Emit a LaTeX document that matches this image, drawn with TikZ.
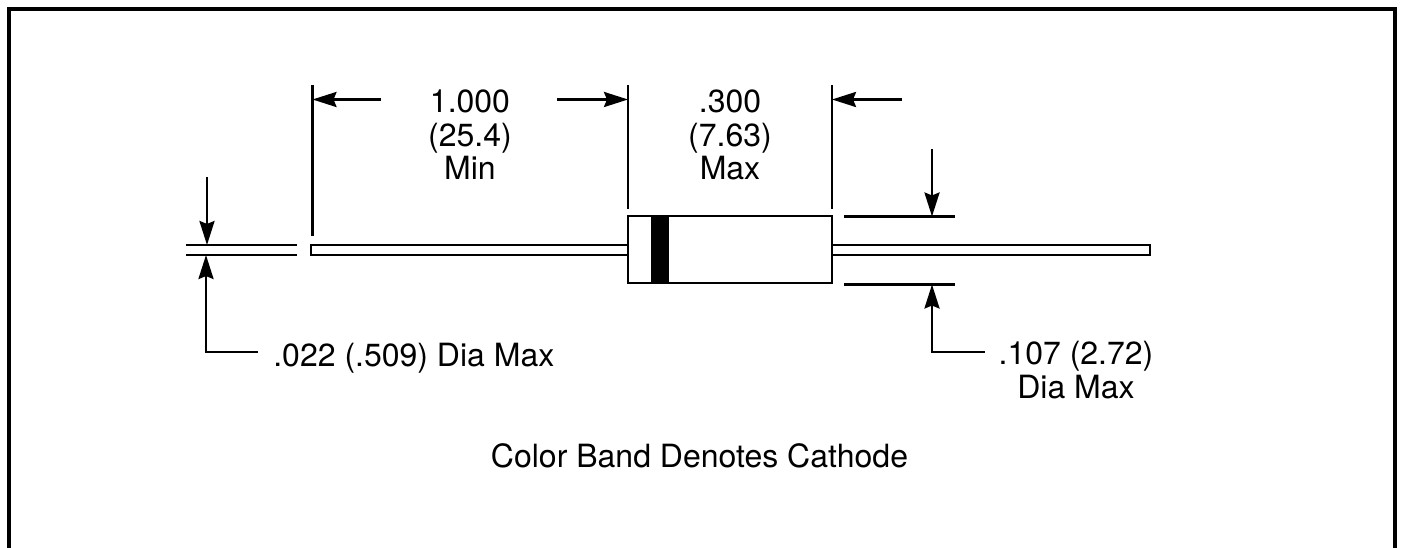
\documentclass[tikz,border=0pt]{standalone}
\usepackage{fontspec}
\setmainfont{TeX Gyre Heros}
\usetikzlibrary{arrows.meta}

\begin{document}
\begin{tikzpicture}[x=1pt,y=-1pt,line width=2.7pt,
    dim/.style={-{Stealth[length=24pt,width=15pt,inset=3pt]}},
    label/.style={font=\fontsize{32}{33.5}\selectfont,align=center,inner sep=0pt}]
  \useasboundingbox (0,0) rectangle (1401,548);

  % frame
  \coordinate (frameA) at (8.5,548);
  \coordinate (frameB) at (8.5,9);
  \coordinate (frameC) at (1395,9);
  \coordinate (frameD) at (1395,548);
  \draw[line width=4pt] (frameA) -- (frameB) -- (frameC) -- (frameD);

  % diode
  \node[draw,minimum width=204pt,minimum height=67pt,inner sep=0pt] (body) at (730,249.5) {};
  \node[fill=black,minimum width=18pt,minimum height=67pt,inner sep=0pt] (band) at (660,249.5) {};
  \coordinate (leadLa) at (311,245);
  \coordinate (leadLb) at (311,255);
  \coordinate (leadRa) at (1150,245);
  \coordinate (leadRb) at (1150,255);
  \draw (body.west |- leadLa) -- (leadLa) -- (leadLb) -- (body.west |- leadLb);
  \draw (body.east |- leadRa) -- (leadRa) -- (leadRb) -- (body.east |- leadRb);

  % texts
  \node[label] (lenText)   at (470,135) {1.000\\(25.4)\\Min};
  \node[label] (bodyText)  at (730,135) {.300\\(7.63)\\Max};
  \node[label,anchor=west] (leadText) at (272,358) {.022 (.509) Dia Max};
  \node[label] (diaText)   at (1076,370) {.107 (2.72)\\Dia Max};
  \node[label] (noteText)  at (699.5,456) {Color Band Denotes Cathode};

  % extension lines
  \coordinate (extA) at (312.5,85);
  \coordinate (extAe) at (312.5,236);
  \coordinate (extB) at (628,85);
  \coordinate (extBe) at (628,209);
  \coordinate (extC) at (832,85);
  \coordinate (extCe) at (832,209);
  \draw (extA) -- (extAe);
  \draw (extB) -- (extBe);
  \draw (extC) -- (extCe);

  \coordinate (stubLa) at (186,245);
  \coordinate (stubLae) at (297,245);
  \coordinate (stubLb) at (186,255);
  \coordinate (stubLbe) at (297,255);
  \coordinate (stubRa) at (844,216.5);
  \coordinate (stubRae) at (955,216.5);
  \coordinate (stubRb) at (844,284.5);
  \coordinate (stubRbe) at (955,284.5);
  \draw (stubLa) -- (stubLae);
  \draw (stubLb) -- (stubLbe);
  \draw (stubRa) -- (stubRae);
  \draw (stubRb) -- (stubRbe);

  % dimension arrows
  \coordinate (arrA) at (381,99.5);
  \coordinate (arrB) at (557,99.5);
  \coordinate (arrC) at (902,99.5);
  \coordinate (arrD) at (207,177);
  \coordinate (arrE) at (932,149);
  \coordinate (kneeL) at (206,352);
  \coordinate (kneeR) at (932,352);
  \coordinate (leadL) at (258,352);
  \coordinate (leadR) at (985,352);
  \draw[dim] (arrA) -- (extA |- arrA);
  \draw[dim] (arrB) -- (extB |- arrB);
  \draw[dim] (arrC) -- (extC |- arrC);
  \draw[dim] (arrD) -- (arrD |- stubLa);
  \draw[dim] (arrE) -- (arrE |- stubRa);
  \draw[dim] (leadL) -- (kneeL) -- (kneeL |- stubLb);
  \draw[dim] (leadR) -- (kneeR) -- (kneeR |- stubRb);
\end{tikzpicture}
\end{document}
